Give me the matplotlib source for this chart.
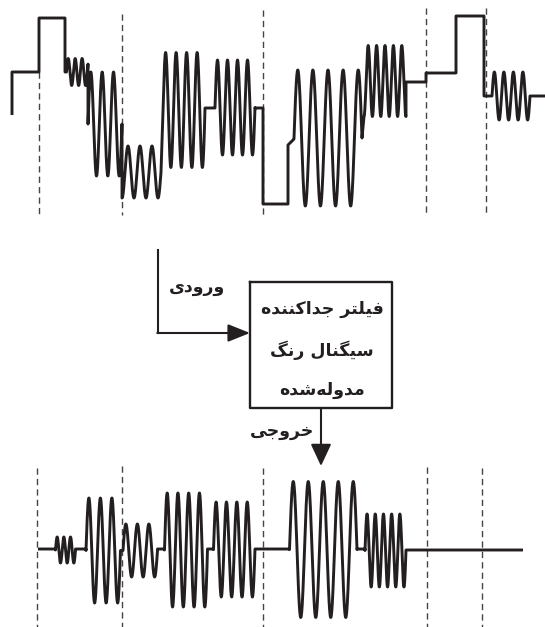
import numpy as np
import matplotlib
matplotlib.use("Agg")
import matplotlib.pyplot as plt

INK = "#231f20"

# ---- data: waveform segments (t0, t1, level_start, level_end, amplitude, cycles, phase)
top_segments = [
    (12, 12, 115, 115, 0, 0, 0),
    (12, 39, 72, 72, 0, 0, 0),
    (39, 65, 18, 18, 0, 0, 0),
    (65, 66.5, 72, 72, 0, 0, 0),
    (66.5, 88, 72, 72, 13.5, 3.1, 0),
    (88, 122, 124, 124, 52, 3, 0),
    (122, 161, 172, 172, 26, 3.25, 0.75),
    (163, 205, 110, 110, 57.5, 4, 0),
    (205, 215, 108, 108, 0, 0, 0),
    (215, 255, 107.5, 107.5, 47.5, 4, 0),
    (255, 263, 108, 108, 0, 0, 0),
    (263, 288, 204, 204, 0, 0, 0),
    (288, 294, 145, 139, 0, 0, 0),
    (294, 362, 138, 138, 68, 4.5, 0),
    (364, 406, 81, 81, 35.5, 5, 0.75),
    (406, 426, 82, 82, 0, 0, 0),
    (426, 456, 73, 73, 0, 0, 0),
    (456, 484, 16, 16, 0, 0, 0),
    (484, 492, 96, 96, 0, 0, 0),
    (492, 530, 96, 96, 24, 4, 0),
    (530, 545, 96, 96, 0, 0, 0),
]

bottom_segments = [
    (38, 55.5, 549, 549, 0, 0, 0),
    (55.5, 75.5, 550, 550, 13, 3, 0),
    (75.5, 86, 549, 549, 0, 0, 0),
    (86, 120.5, 550.5, 550.5, 52.5, 3, 0),
    (123, 157.5, 550.5, 550.5, 26.5, 3, 0),
    (157.5, 164.5, 549, 549, 0, 0, 0),
    (164.5, 207.5, 550, 550, 57, 4, 0),
    (207.5, 213.5, 549, 549, 0, 0, 0),
    (213.5, 255, 549.5, 549.5, 47.5, 4, 0),
    (255, 289.5, 549, 549, 0, 0, 0),
    (289.5, 357, 549.5, 549.5, 68, 4.5, 0),
    (357, 365, 549, 549, 0, 0, 0),
    (365, 406, 550.5, 550.5, 36.5, 5, 0),
    (406, 523, 550, 550, 0, 0, 0),
]

top_dashes = [(39, 72, 215), (122, 14, 215), (263, 10, 215), (426, 8, 215), (486, 8, 215)]
bottom_dashes = [(37, 468, 627), (122, 466, 627), (263, 468, 627), (427, 467, 627), (482, 468, 627)]

# Persian labels (pre-shaped presentation forms, visual order)
label_input = "\uFEEF\uFEA9\uFEED\uFEAD\uFEED"                      # ورودی
label_output = "\uFEF0\uFE9F\uFEED\uFEAE\uFEA7"                     # خروجی
box_lines = [
    "\uFEE9\uFEAA\uFEE8\uFEE8\uFB90\uFE8D\uFEAA\uFE9F \uFEAE\uFE98\uFEE0\uFEF4\uFED3",  # فیلتر جداکننده
    "\uFB93\uFEE7\uFEAD \uFEDD\uFE8E\uFEE8\uFB95\uFEF4\uFEB3",                          # سیگنال رنگ
    "\uFEE9\uFEAA\uFEB7\uFEEA\uFEDF\uFEED\uFEAA\uFEE3",                                  # مدوله‌شده
]


def build(segments):
    xs, ys = [], []
    for t0, t1, l0, l1, amp, cyc, ph in segments:
        n = max(2, int(cyc * 60) + 2)
        t = np.linspace(0, 1, n)
        xs.append(t0 + (t1 - t0) * t)
        ys.append(l0 + (l1 - l0) * t - amp * np.sin(2 * np.pi * (ph + cyc * t)))
    return np.concatenate(xs), np.concatenate(ys)


fig = plt.figure(figsize=(5.45, 6.27), dpi=100)
ax = fig.add_axes([0, 0, 1, 1])
ax.set_xlim(0, 545)
ax.set_ylim(627, 0)
ax.axis("off")

for x, y0, y1 in top_dashes + bottom_dashes:
    ax.plot([x, x], [y0, y1], color="#444444", lw=1.0, dashes=(4.5, 3.0))

for segs in (top_segments, bottom_segments):
    x, y = build(segs)
    ax.plot(x, y, color=INK, lw=2.1, solid_joinstyle="round", solid_capstyle="butt")

# block diagram
ax.plot([250, 392, 392, 250, 250], [282, 282, 408, 408, 282], color=INK, lw=1.7)
ax.plot([158, 158], [250, 333], color=INK, lw=1.5)
ax.annotate("", xy=(250, 333), xytext=(157.3, 333),
            arrowprops=dict(arrowstyle="-|>,head_length=0.75,head_width=0.3",
                            lw=1.5, color=INK, mutation_scale=18, shrinkA=0, shrinkB=0))
ax.annotate("", xy=(321, 466), xytext=(321, 408),
            arrowprops=dict(arrowstyle="-|>,head_length=0.75,head_width=0.35",
                            lw=1.5, color=INK, mutation_scale=18, shrinkA=0, shrinkB=0))

tkw = dict(family="DejaVu Sans", weight="bold", color=INK, ha="center", va="center")
ax.text(197, 288, label_input, fontsize=12.5, **tkw)
ax.text(282, 431, label_output, fontsize=12.5, **tkw)
for yy, s in zip([309, 350, 390], box_lines):
    ax.text(322, yy, s, fontsize=12.5, **tkw)

fig.savefig("out.png", dpi=100)
